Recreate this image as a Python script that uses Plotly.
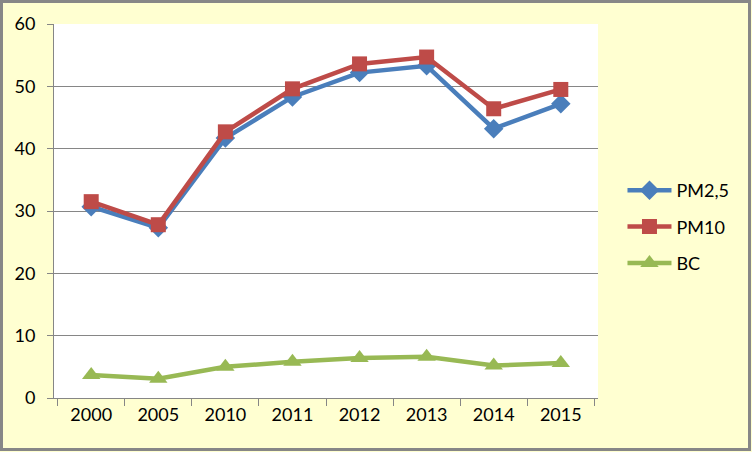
import plotly.graph_objects as go

years = ["2000", "2005", "2010", "2011", "2012", "2013", "2014", "2015"]
pm25 = [30.7, 27.3, 41.7, 48.3, 52.2, 53.3, 43.2, 47.2]
pm10 = [31.5, 27.8, 42.7, 49.6, 53.6, 54.7, 46.4, 49.5]
bc = [3.7, 3.1, 5.0, 5.8, 6.4, 6.6, 5.2, 5.6]

series = [
    ("PM2,5", pm25, "#4A7EBB", "diamond", 15),
    ("PM10", pm10, "#BE4B48", "square", 15),
    ("BC", bc, "#98B954", "triangle-up", 16),
]

fig = go.Figure()
for i, (name, vals, color, symbol, size) in enumerate(series):
    fig.add_trace(go.Scatter(
        x=years, y=vals, name=name, mode="lines+markers",
        line=dict(color=color, width=4.5),
        marker=dict(symbol=symbol, size=size, color=color),
        legendgroup=str(i),
    ))

# plot area in pixels: x 54..598, y 24..398
L, R, T, B = 54, 598, 24, 398
W, H = R - L, B - T

# outer chart border
fig.add_shape(
    type="rect", xref="paper", yref="paper",
    x0=(1.5 - L) / W, x1=(749.5 - L) / W,
    y0=(B - 449.5) / H, y1=(B - 1.5) / H,
    line=dict(color="#878787", width=3),
)

fig.update_layout(
    width=752, height=452,
    margin=dict(l=L, r=752 - R, t=T, b=452 - B),
    paper_bgcolor="#FFFFD1",
    plot_bgcolor="#FFFFFF",
    font=dict(family="Lato", size=18, color="#000000"),
    legend=dict(
        x=1.045, y=(B - 227) / H, xanchor="left", yanchor="middle",
        bgcolor="rgba(0,0,0,0)", traceorder="grouped", tracegroupgap=10,
        itemwidth=44, font=dict(size=18),
    ),
    xaxis=dict(
        type="category", showgrid=False, showline=True, linecolor="#868686",
        linewidth=1, ticks="outside", tickson="boundaries", ticklen=7,
        tickcolor="#868686",
    ),
    yaxis=dict(
        range=[0, 60], dtick=10, showgrid=True, gridcolor="#868686",
        gridwidth=1, showline=True, linecolor="#868686", linewidth=1,
        ticks="outside", ticklen=6, tickcolor="#868686",
        ticklabelstandoff=8, zeroline=False,
    ),
)

fig.write_html("out.html", config={"displayModeBar": False},
               post_script="document.body.style.margin='0';")
